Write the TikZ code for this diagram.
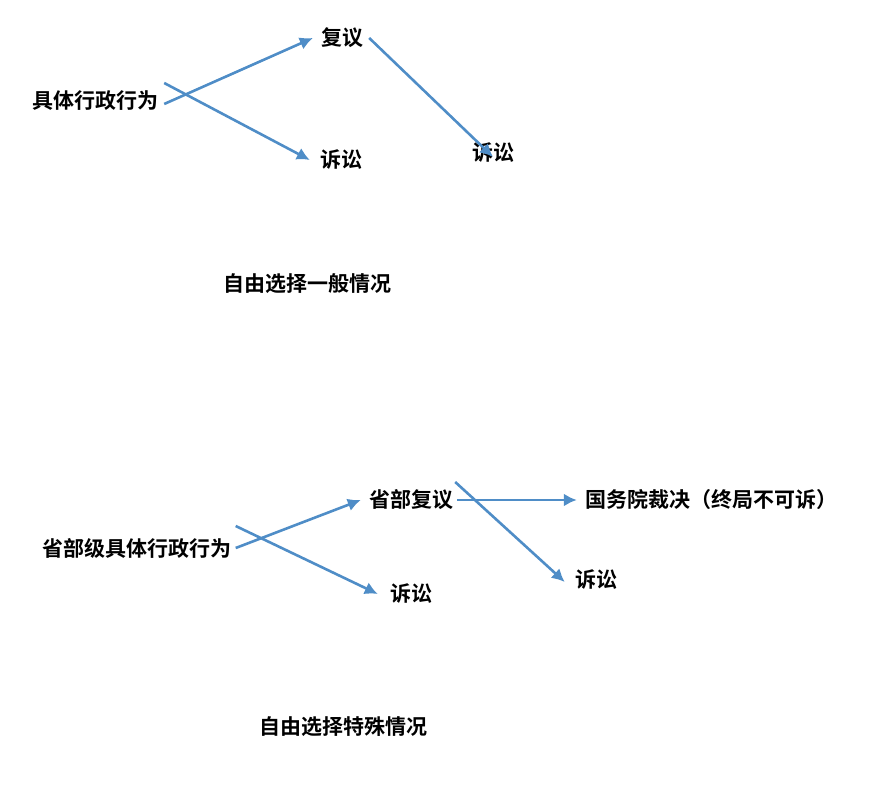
\documentclass[tikz,border=0pt]{standalone}
\usepackage{fontspec}
\usetikzlibrary{arrows.meta}
\newfontfamily\cjk{Noto Sans CJK SC}[BoldFont={* Bold}]
\begin{document}
\begin{tikzpicture}[x=1pt,y=-1pt,
    lbl/.style={font=\cjk\bfseries\fontsize{21}{24}\selectfont, inner sep=2pt},
    flow/.style={draw={rgb,255:red,79;green,141;blue,199}, line width=2.6pt, -{Latex[length=13pt,width=13pt]}}]
    \useasboundingbox (0,0) rectangle (883,810);
    \node (a) [lbl] at (95,101) {具体行政行为};
    \node (b) [lbl] at (342,38) {复议};
    \node (c) [lbl] at (341,160) {诉讼};
    \node (d) [lbl] at (493,153) {诉讼};
    \node (t1) [lbl] at (307,284) {自由选择一般情况};
    \node (e) [lbl] at (137,548) {省部级具体行政行为};
    \node (f) [lbl] at (411,500) {省部复议};
    \node (g) [lbl] at (711,500) {国务院裁决（终局不可诉）};
    \node (h) [lbl] at (411,594) {诉讼};
    \node (i) [lbl] at (596,580) {诉讼};
    \node (t2) [lbl] at (343,727) {自由选择特殊情况};
    \draw[flow] ([xshift=4pt,yshift=-3pt]a.east) -- ([xshift=-6pt]b.west);
    \draw[flow] ([xshift=4pt,yshift=18pt]a.east) -- ([xshift=-8pt]c.west);
    \draw[flow] ([xshift=4pt]b.east) -- ([yshift=-16pt]d.north);
    \draw[flow] ([xshift=2pt]e.east) -- ([xshift=-6pt]f.west);
    \draw[flow] ([xshift=2pt,yshift=22pt]e.east) -- ([xshift=-10pt]h.west);
    \draw[flow] ([xshift=2pt]f.east) -- ([xshift=-6pt]g.west);
    \draw[flow] ([xshift=0pt,yshift=18pt]f.east) -- ([xshift=-8pt,yshift=-2pt]i.west);
\end{tikzpicture}
\end{document}
